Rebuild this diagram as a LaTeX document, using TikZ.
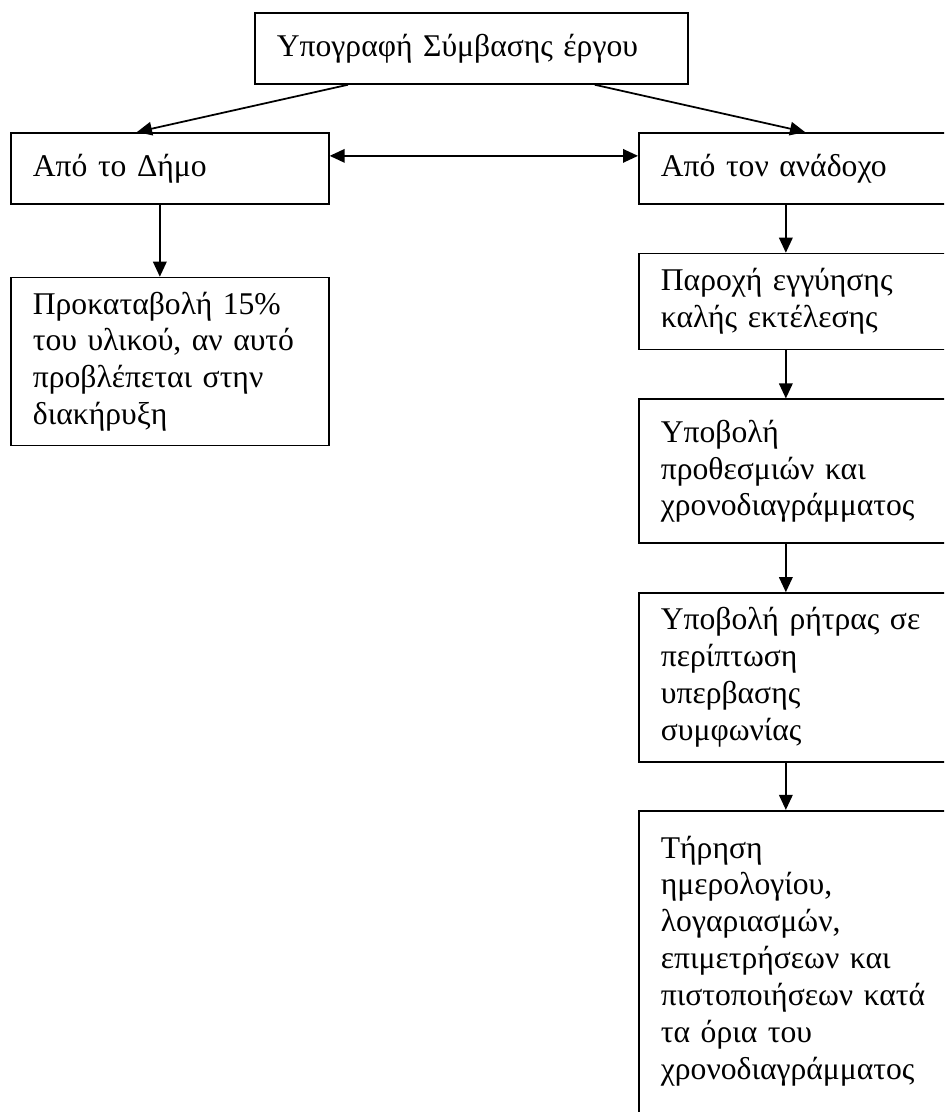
\documentclass[tikz,border=0pt]{standalone}
\usepackage{fontspec}
\setmainfont{Liberation Serif}
\usetikzlibrary{positioning,arrows.meta}

\begin{document}
\begin{tikzpicture}[x=0.02cm, y=-0.02cm, node distance=0.96cm]
    % Define styles for boxes and arrows
    \tikzstyle{stepbox} = [rectangle, draw=black, line width=1pt, anchor=north west, text width=5.48cm, inner xsep=0.44cm, inner ysep=0pt, align=left, font=\fontsize{18}{21}\selectfont]
    \tikzstyle{titlebox} = [stepbox, text width=7.78cm, minimum height=1.42cm]
    \tikzstyle{arrow} = [line width=1pt, -{Triangle[length=0.3cm, width=0.27cm]}]
    \tikzset{doubleArrow/.style={line width=1pt,
        {Triangle[length=0.3cm, width=0.27cm]}-{Triangle[length=0.3cm, width=0.27cm]}
    }}
    \useasboundingbox (0,0) rectangle (944,1112);
    \clip (0,0) rectangle (944,1112);
    % Nodes
    \node (ypografi) [titlebox] at (254,12) {Υπογραφή Σύμβασης έργου};
    \node (dimos) [stepbox, minimum height=1.42cm] at (10,132) {Από το Δήμο};
    \node (prokatavoli) [stepbox, minimum height=3.36cm, below=1.44cm of dimos] {Προκαταβολή 15\%\\ του υλικού, αν αυτό\\ προβλέπεται στην\\ διακήρυξη};
    \node (anadoxos) [stepbox, minimum height=1.42cm] at (638,132) {Από τον ανάδοχο};
    \node (parochi) [stepbox, minimum height=1.92cm, below=of anadoxos] {Παροχή εγγύησης\\ καλής εκτέλεσης};
    \node (prothesmies) [stepbox, minimum height=2.88cm, below=of parochi] {Υποβολή\\ προθεσμιών και\\ χρονοδιαγράμματος};
    \node (ritra) [stepbox, minimum height=3.38cm, below=of prothesmies] {Υποβολή ρήτρας σε\\ περίπτωση\\ υπερβασης\\ συμφωνίας};
    \node (tirisi) [stepbox, inner ysep=0.5cm, text depth=5.3cm, below=0.94cm of ritra] {Τήρηση\\ ημερολογίου,\\ λογαριασμών,\\ επιμετρήσεων και\\ πιστοποιήσεων κατά\\ τα όρια του\\ χρονοδιαγράμματος};
    % Arrows (connections)
    \draw [arrow] ([xshift=1.88cm]ypografi.south west) -- ([xshift=2.54cm]dimos.north west);
    \draw [arrow] ([xshift=-1.88cm]ypografi.south east) -- ([xshift=3.34cm]anadoxos.north west);
    \draw [doubleArrow] ([yshift=0.25cm]dimos.east) -- ([yshift=0.25cm]anadoxos.west);
    \draw [arrow] ([xshift=-0.2cm]dimos.south) -- ([xshift=-0.2cm]prokatavoli.north);
    \draw [arrow] ([xshift=-0.24cm]anadoxos.south) -- ([xshift=-0.24cm]parochi.north);
    \draw [arrow] ([xshift=-0.24cm]parochi.south) -- ([xshift=-0.24cm]prothesmies.north);
    \draw [arrow] ([xshift=-0.24cm]prothesmies.south) -- ([xshift=-0.24cm]ritra.north);
    \draw [arrow] ([xshift=-0.24cm]ritra.south) -- ([xshift=-0.24cm]tirisi.north);
\end{tikzpicture}
\end{document}
